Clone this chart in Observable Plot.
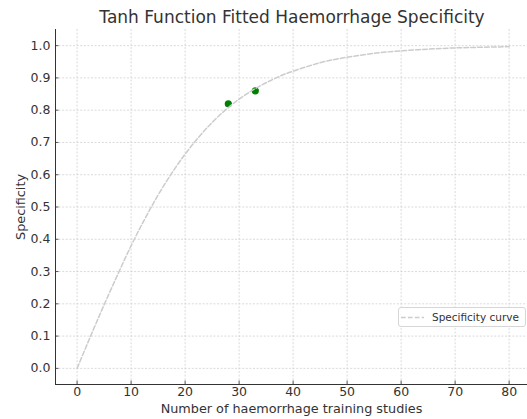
<!DOCTYPE html>
<html>
<head>
<meta charset="utf-8">
<script src="https://cdn.jsdelivr.net/npm/d3@7"></script>
<script src="https://cdn.jsdelivr.net/npm/@observablehq/plot@0.6"></script>
<style>
  html, body { margin: 0; padding: 0; background: #fff; }
  #wrap { position: relative; width: 527px; height: 419px; font-family: "DejaVu Sans", sans-serif; }
  #title { position: absolute; left: 57px; width: 470px; top: 7px; text-align: center; font-size: 17px; color: #333; white-space: nowrap; }
  #chart { position: absolute; left: 0; top: 29px; }
  #legend { position: absolute; left: 398px; top: 307px; width: 128px; height: 20px; border: 1px solid #d6d6d6; border-radius: 3px; background: rgba(255,255,255,0.85); box-sizing: border-box; font-size: 10.5px; color: #333; }
  #legend svg { position: absolute; left: 2px; top: 8px; }
  #legend span { position: absolute; left: 33px; top: 3px; white-space: nowrap; }
</style>
</head>
<body>
<div id="wrap">
  <div id="title"></div>
  <div id="chart"></div>
  <div id="legend"><svg width="23" height="3"><line x1="0" y1="1.5" x2="23" y2="1.5" stroke="#cccccc" stroke-width="1.5" stroke-dasharray="4.7,2.2"/></svg><span id="legendText"></span></div>
</div>
<script>
const titleText = "Tanh Function Fitted Haemorrhage Specificity";
const xLabel = "Number of haemorrhage training studies";
const yLabel = "Specificity";
const legendLabel = "Specificity curve";

// fitted curve
const curveX = [0, 2.5, 5, 7.5, 10, 12.5, 15, 17.5, 20, 22.5, 25, 27.5, 30, 32.5, 35, 37.5, 40, 45, 50, 55, 60, 65, 70, 75, 80];
const curveY = [0, 0.10, 0.197, 0.29, 0.38, 0.462, 0.537, 0.604, 0.664, 0.716, 0.762, 0.801, 0.834, 0.862, 0.885, 0.905, 0.921, 0.947, 0.964, 0.976, 0.984, 0.989, 0.993, 0.995, 0.997];

// observed points
const pointX = [28, 33];
const pointY = [0.82, 0.86];

const xTicks = [0, 10, 20, 30, 40, 50, 60, 70, 80];
const yTicks = [0, 0.1, 0.2, 0.3, 0.4, 0.5, 0.6, 0.7, 0.8, 0.9, 1.0];

const curve = curveX.map((x, i) => ({x, y: curveY[i]}));
const points = pointX.map((x, i) => ({x, y: pointY[i]}));

document.getElementById("title").textContent = titleText;
document.getElementById("legendText").textContent = legendLabel;

const W = 527, H = 390, mL = 55, mR = 0, mT = 0, mB = 35;
const xDomain = [-4, 83.4];
const yDomain = [-0.05, 1.05];
const frameW = W - mL - mR, frameH = H - mT - mB;

const chart = Plot.plot({
  width: W,
  height: H,
  marginLeft: mL,
  marginRight: mR,
  marginTop: mT,
  marginBottom: mB,
  style: { fontFamily: "DejaVu Sans, sans-serif", fontSize: "12.5px", color: "#333", background: "white", overflow: "visible" },
  x: { domain: xDomain },
  y: { domain: yDomain },
  marks: [
    Plot.ruleX(xTicks, { x: d => d, stroke: "#d0d0d0", strokeWidth: 0.8, strokeDasharray: "2,1.6" }),
    Plot.ruleY(yTicks, { y: d => d, stroke: "#d0d0d0", strokeWidth: 0.8, strokeDasharray: "2,1.6" }),
    Plot.axisX({ ticks: xTicks, tickSize: 0, tickPadding: 3, tickFormat: d3.format("d"), label: null, fontSize: 12.5, fill: "#333" }),
    Plot.axisY({ ticks: yTicks, tickSize: 0, tickPadding: 5, tickFormat: d3.format(".1f"), label: null, fontSize: 12.5, fill: "#333" }),
    // inward ticks
    Plot.tickX(xTicks, { x: d => d, insetTop: frameH - 3.5, stroke: "#333", strokeWidth: 0.8 }),
    Plot.tickY(yTicks, { y: d => d, insetRight: frameW - 3.5, stroke: "#333", strokeWidth: 0.8 }),
    Plot.dot(points, { x: "x", y: "y", r: 3.6, fill: "green", stroke: "none" }),
    Plot.line(curve, { x: "x", y: "y", curve: "natural", stroke: "#cccccc", strokeWidth: 1.5, strokeDasharray: "4.7,2.2" }),
    // spines
    Plot.ruleX([xDomain[0]], { x: d => d, stroke: "#333", strokeWidth: 1 }),
    Plot.ruleY([yDomain[0]], { y: d => d, stroke: "#333", strokeWidth: 1 }),
    Plot.text([xLabel], { frameAnchor: "bottom", dy: 28, text: d => d, fontSize: 12.8, fill: "#333" }),
    Plot.text([yLabel], { frameAnchor: "left", dx: -35, rotate: -90, textAnchor: "middle", text: d => d, fontSize: 12.8, fill: "#333" })
  ]
});
document.getElementById("chart").appendChild(chart);
</script>
</body>
</html>
